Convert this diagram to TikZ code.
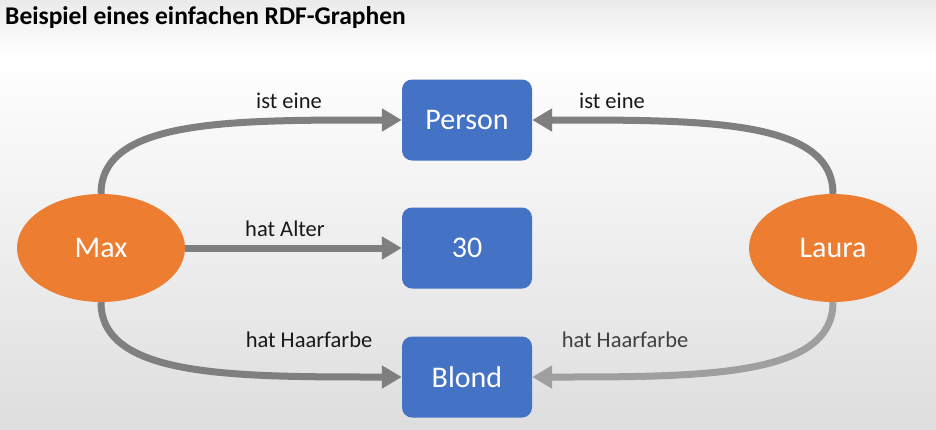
\documentclass[tikz,border=0pt]{standalone}
\usepackage{fontspec}
\setmainfont{Carlito}
\usetikzlibrary{shapes.geometric,arrows.meta}

\definecolor{boxblue}{HTML}{4472C4}
\definecolor{nodeorange}{HTML}{ED7D31}
\definecolor{arcgray}{HTML}{7F7F7F}

\tikzset{
    res/.style={fill=boxblue, rounded corners=10pt, minimum width=130pt, minimum height=81pt,
        text=white, font=\fontsize{30}{30}\selectfont},
    subj/.style={ellipse, fill=nodeorange, minimum width=168pt, minimum height=108pt,
        inner sep=0pt, text=white, font=\fontsize{30}{30}\selectfont},
    arc/.style={draw=arcgray, line width=7pt, -{Triangle[length=20pt,width=22pt]}},
    lbl/.style={font=\fontsize{22.5}{22.5}\selectfont, text=black!90}
}

\begin{document}
\begin{tikzpicture}[x=1pt, y=-1pt]

    %%background
    \shade[top color=black!8, bottom color=white] (0, 0) rectangle (936, 55);
    \shade[top color=white, bottom color=black!13] (0, 55) rectangle (936, 429);
    \useasboundingbox (0, 0) rectangle (936, 429);

    %%title
    \node[anchor=west, inner sep=0pt, font=\fontsize{25.5}{25.5}\selectfont\bfseries] (title) at (5, 18)
        {Beispiel eines einfachen RDF-Graphen};

    %%the resources
    \node[res] (person) at (467, 120){Person};
    \node[res] (thirty) at (467, 248){30};
    \node[res] (blond) at (467, 377){Blond};

    \node[subj] (max) at (101, 248){Max};
    \node[subj] (laura) at (833, 248){Laura};

    %%draw the arcs
    \draw[arc] (max.north) .. controls +(0, -75) and +(-170, 0) .. (person.west);
        \node[lbl] (l1) at (289, 101){ist eine};
    \draw[arc] (laura.north) .. controls +(0, -75) and +(170, 0) .. (person.east);
        \node[lbl] (l2) at (612, 101){ist eine};
    \draw[arc] (max.east) -- (thirty.west);
        \node[lbl] (l3) at (285, 229){hat Alter};
    \draw[arc] (max.south) .. controls +(0, 75) and +(-170, 0) .. (blond.west);
        \node[lbl] (l4) at (309, 340){hat Haarfarbe};
    \draw[arc, draw=arcgray!75] (laura.south) .. controls +(0, 75) and +(170, 0) .. (blond.east);
        \node[lbl, text=black!75] (l5) at (625, 340){hat Haarfarbe};

\end{tikzpicture}
\end{document}
